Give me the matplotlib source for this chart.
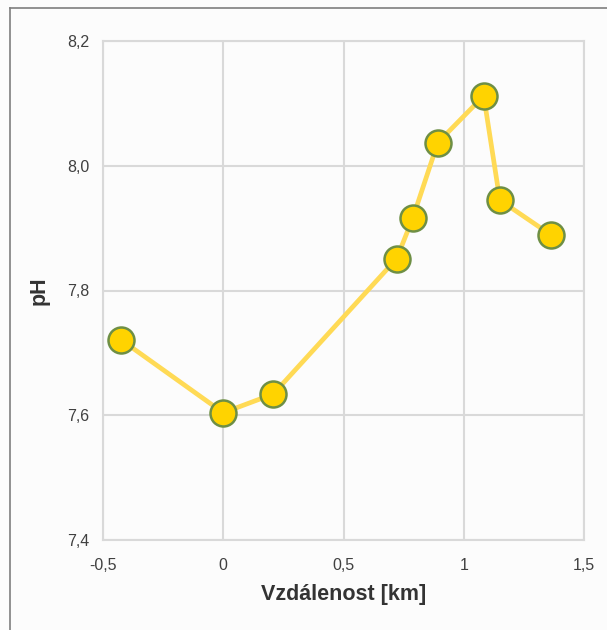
import matplotlib
matplotlib.use("Agg")
import matplotlib.pyplot as plt
from matplotlib.lines import Line2D
from matplotlib.ticker import FuncFormatter

# distance from site [km] and measured pH
distance_km = [-0.425, 0.0, 0.208, 0.721, 0.788, 0.892, 1.083, 1.150, 1.363]
ph_values = [7.721, 7.604, 7.634, 7.851, 7.916, 8.037, 8.112, 7.945, 7.889]

x_ticks = [-0.5, 0.0, 0.5, 1.0, 1.5]
y_ticks = [7.4, 7.6, 7.8, 8.0, 8.2]

GRID = "#D9D9D9"
TEXT = "#404040"

plt.rcParams["font.family"] = ["Liberation Sans", "DejaVu Sans"]

fig = plt.figure(figsize=(6.07, 6.30), dpi=100)
fig.patch.set_facecolor("#FCFCFC")
ax = fig.add_axes([103 / 607, 1 - 540 / 630, (584 - 103) / 607, (540 - 41) / 630])
ax.set_facecolor("#FCFCFC")

ax.plot(distance_km, ph_values, color="#FFDA55", linewidth=3.4, zorder=2)
ax.scatter(distance_km, ph_values, s=350, facecolor="#FFD300", edgecolor="#6E8F45",
           linewidth=1.8, zorder=3)

ax.set_xlim(-0.5, 1.5)
ax.set_ylim(7.4, 8.2)
ax.set_xticks(x_ticks)
ax.set_yticks(y_ticks)

def comma_fmt(decimals):
    def fmt(v, _pos):
        if decimals == 0 and abs(v - round(v)) < 1e-9:
            return f"{v:.0f}"
        s = f"{v:.{decimals}f}" if decimals else f"{v:g}"
        return s.replace(".", ",")
    return fmt

ax.xaxis.set_major_formatter(FuncFormatter(comma_fmt(0)))
ax.yaxis.set_major_formatter(FuncFormatter(comma_fmt(1)))

ax.grid(True, color=GRID, linewidth=1.5)
ax.set_axisbelow(True)
for side in ["left", "right", "top", "bottom"]:
    ax.spines[side].set_color(GRID)
    ax.spines[side].set_linewidth(1.5)
ax.tick_params(length=0, labelsize=11.5, labelcolor=TEXT, pad=10)
ax.tick_params(axis="x", pad=13)

ax.set_xlabel("Vzdálenost [km]", fontsize=15.5, fontweight="bold", color="#333333")
ax.set_ylabel("pH", fontsize=15.5, fontweight="bold", color="#333333")
ax.xaxis.set_label_coords(0.5, -0.088)
ax.yaxis.set_label_coords(-0.112, 0.5)

# outer frame (top and left only)
fig.add_artist(Line2D([10 / 607, 1.0], [1 - 8 / 630, 1 - 8 / 630], color="#7F7F7F", linewidth=1.2,
                      transform=fig.transFigure))
fig.add_artist(Line2D([10 / 607, 10 / 607], [0.0, 1 - 8 / 630], color="#7F7F7F", linewidth=1.2,
                      transform=fig.transFigure))

fig.savefig("out.png", dpi=100, facecolor=fig.get_facecolor())
